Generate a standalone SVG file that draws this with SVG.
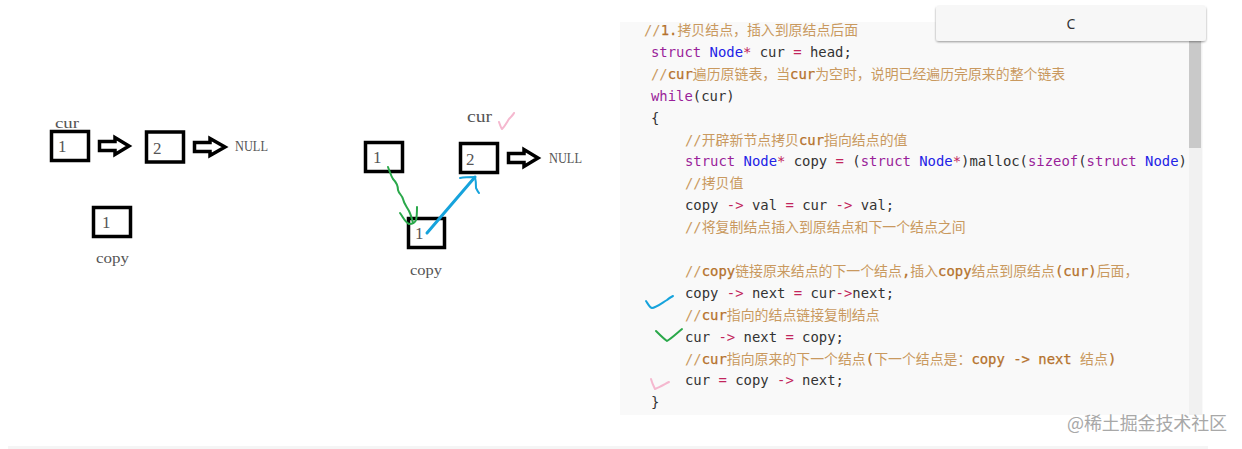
<svg xmlns="http://www.w3.org/2000/svg" width="1242" height="449" viewBox="0 0 1242 449">
<defs>
<clipPath id="codeClip"><rect x="620" y="22" width="567" height="393"/></clipPath>
<filter id="tabShadow" x="-3%" y="-20%" width="106%" height="150%"><feDropShadow dx="0" dy="1" stdDeviation="1" flood-color="#000" flood-opacity="0.4"/></filter>
</defs>
<style>
.box{fill:#fff;stroke:#000;stroke-width:3.500}
.block{fill:#fff;stroke:#000;stroke-width:3.500;stroke-linejoin:miter}
.hand{font-family:"Liberation Serif",serif;font-size:14px;fill:#555}
.num{font-family:"Liberation Serif",serif;font-size:17px;fill:#555}
.ink{fill:none;stroke-linecap:round;stroke-linejoin:round}
.code{font-family:"DejaVu Sans Mono","Noto Sans CJK SC",monospace;font-size:13.900px;fill:#333}
.cm{fill:#c9995f}
.cb{fill:#b5722c;stroke:#b5722c;stroke-width:0.250}
.kw{fill:#9a1f9a}
.ty{fill:#2222e6}
.op{fill:#c2255c}
</style>
<rect width="1242" height="449" fill="#fff"/>
<rect x="8" y="446" width="1200" height="3" fill="#f5f5f5"/>

<g id="panel">
<rect x="620" y="22" width="583" height="393" fill="#f9f9f9"/>
<rect x="1189" y="41" width="13" height="374" fill="#f1f1f1"/>
<rect x="1189" y="41" width="12" height="107" fill="#c9c9c9"/>
</g>

<g id="code" class="code" clip-path="url(#codeClip)">
<text x="644" y="35" class="cm"><tspan>//</tspan><tspan class="cb">1.</tspan>拷贝结点，插入到原结点后面</text>
<text x="651" y="56.900"><tspan class="kw">struct</tspan> <tspan class="ty">Node</tspan><tspan class="op">*</tspan> cur <tspan class="op">=</tspan> head;</text>
<text x="651" y="78.800" class="cm">//<tspan class="cb">cur</tspan>遍历原链表，当<tspan class="cb">cur</tspan>为空时，说明已经遍历完原来的整个链表</text>
<text x="651" y="100.700"><tspan class="kw">while</tspan>(cur)</text>
<text x="651" y="122.600">{</text>
<text x="685" y="144.500" class="cm">//开辟新节点拷贝<tspan class="cb">cur</tspan>指向结点的值</text>
<text x="685" y="166.400"><tspan class="kw">struct</tspan> <tspan class="ty">Node</tspan><tspan class="op">*</tspan> copy <tspan class="op">=</tspan> (<tspan class="kw">struct</tspan> <tspan class="ty">Node</tspan><tspan class="op">*</tspan>)malloc(<tspan class="kw">sizeof</tspan>(<tspan class="kw">struct</tspan> <tspan class="ty">Node</tspan>));</text>
<text x="685" y="188.300" class="cm">//拷贝值</text>
<text x="685" y="210.200">copy <tspan class="op">-&gt;</tspan> val <tspan class="op">=</tspan> cur <tspan class="op">-&gt;</tspan> val;</text>
<text x="685" y="232.100" class="cm">//将复制结点插入到原结点和下一个结点之间</text>
<text x="685" y="275.900" class="cm">//<tspan class="cb">copy</tspan>链接原来结点的下一个结点<tspan class="cb">,</tspan>插入<tspan class="cb">copy</tspan>结点到原结点<tspan class="cb">(cur)</tspan>后面，</text>
<text x="685" y="297.800">copy <tspan class="op">-&gt;</tspan> next <tspan class="op">=</tspan> cur<tspan class="op">-&gt;</tspan>next;</text>
<text x="685" y="319.700" class="cm">//<tspan class="cb">cur</tspan>指向的结点链接复制结点</text>
<text x="685" y="341.600">cur <tspan class="op">-&gt;</tspan> next <tspan class="op">=</tspan> copy;</text>
<text x="685" y="363.500" class="cm">//<tspan class="cb">cur</tspan>指向原来的下一个结点<tspan class="cb">(</tspan>下一个结点是：<tspan class="cb">copy -&gt; next </tspan>结点<tspan class="cb">)</tspan></text>
<text x="685" y="385.400">cur <tspan class="op">=</tspan> copy <tspan class="op">-&gt;</tspan> next;</text>
<text x="651" y="407.300">}</text>
</g>

<g id="lang-tab">
<rect x="936" y="6" width="270" height="35" rx="3" fill="#f7f7f7" filter="url(#tabShadow)"/>
<text x="1071" y="29" text-anchor="middle" font-family="'Noto Sans',sans-serif" font-size="14" fill="#333">C</text>
</g>

<g id="connectors">
<path class="block" d="M99.500,141.500H115V137.500L129,146L115,154.500V150.500H99.500Z"/>
<path class="block" d="M194.500,142.500H210V138.500L225,147L210,155.500V151.500H194.500Z"/>
<path class="block" d="M508.500,153.500H524V149.500L538,158L524,166.500V162.500H508.500Z"/>
</g>

<g id="node-a1"><rect class="box" x="51.500" y="131.500" width="37" height="29"/><text class="num" x="58" y="152">1</text></g>
<g id="node-a2"><rect class="box" x="146.500" y="132" width="37" height="30"/><text class="num" x="153" y="154">2</text></g>
<g id="node-a-copy"><rect class="box" x="93.500" y="207.500" width="37" height="29"/><text class="num" x="102" y="228">1</text></g>
<g id="node-b1"><rect class="box" x="365.500" y="142.500" width="37" height="29"/><text class="num" x="373" y="163">1</text></g>
<g id="node-b2"><rect class="box" x="460.500" y="143.500" width="37" height="29"/><text class="num" x="466" y="165">2</text></g>
<g id="node-b-copy"><rect class="box" x="408.500" y="218.500" width="36" height="29"/><text class="num" x="415" y="239">1</text></g>

<g id="labels">
<text class="hand" x="55" y="128" textLength="24" lengthAdjust="spacingAndGlyphs">cur</text>
<text class="hand" x="235" y="151" textLength="33" lengthAdjust="spacingAndGlyphs" style="font-size:15px">NULL</text>
<text class="hand" x="96" y="263" textLength="33" lengthAdjust="spacingAndGlyphs">copy</text>
<text class="hand" x="467" y="122" textLength="25" lengthAdjust="spacingAndGlyphs" style="font-size:16px">cur</text>
<text class="hand" x="549" y="163" textLength="33" lengthAdjust="spacingAndGlyphs" style="font-size:15px">NULL</text>
<text class="hand" x="410" y="275" textLength="32" lengthAdjust="spacingAndGlyphs">copy</text>
</g>

<g id="pen-marks">
<path class="ink" stroke="#2aa84a" stroke-width="2" d="M388,167C390,172 391,176 393,179C396,182 398,186 398,190C399,194 402,195 403,199C404,204 407,207 409,211C411,215 412,219 413,223M400,213C403,217 405,222 409,224C413,224 415,223 416,220C417,216 417,212 417,207"/>
<path class="ink" stroke="#16a3dc" stroke-width="3" d="M427,233L475,177"/>
<path class="ink" stroke="#16a3dc" stroke-width="2" d="M460,178C465,177 470,177 475,177C476,181 476,185 476,188C477,190 478,192 479,193"/>
<path class="ink" stroke="#f5b8cf" stroke-width="2" d="M499,122C500,125 501,128 502,129C505,126 507,122 509,119C511,117 513,115 514,113"/>
<path class="ink" stroke="#16a3dc" stroke-width="2" d="M646,301C648,304 650,308 652,308C656,308 662,303 667,300C669,298 671,297 673,296"/>
<path class="ink" stroke="#2aa84a" stroke-width="2" d="M656,331C660,335 664,339 667,341C672,338 677,333 682,329"/>
<path class="ink" stroke="#f5b8cf" stroke-width="2" d="M651,379C652,383 654,387 655,389C660,387 665,384 669,382"/>
</g>

<g id="watermark">
<text x="1067" y="430" font-family="'Noto Sans CJK SC',sans-serif" font-size="18" fill="#a8a8a8" textLength="160">@稀土掘金技术社区</text>
</g>
</svg>
